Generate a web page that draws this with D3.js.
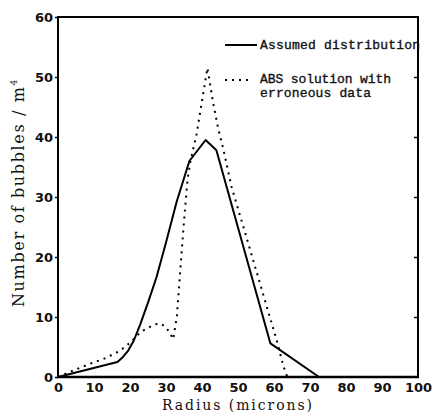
<!DOCTYPE html>
<html>
<head>
<meta charset="utf-8">
<script src="https://cdn.jsdelivr.net/npm/d3@7"></script>
<style>
  html, body { margin: 0; padding: 0; background: #fff; }
  svg { display: block; }
</style>
</head>
<body>
<svg id="chart" width="435" height="416"></svg>
<script>
// ---- data ----
const radiusAssumed = [0, 16.5, 18, 19.5, 21, 22.8, 25, 27.4, 30, 33, 36.5, 41, 44, 59, 72.5];
const countAssumed  = [0, 2.5, 3.3, 4.4, 6, 8.7, 12.4, 16.7, 22.4, 29.3, 36, 39.5, 37.8, 5.6, 0];

const radiusABS = [0, 4.7, 8.9, 13, 17, 19, 21, 23, 25, 27, 28.5, 30, 31.3, 32, 33, 34, 35, 36, 36.8, 38.5, 40, 41.5, 43, 44.5, 46, 48.2, 52, 56, 61, 62.5, 63.7];
const countABS  = [0, 1.2, 2.2, 3.1, 4.3, 5.2, 6.3, 7.5, 8.2, 8.8, 8.9, 8.3, 7.1, 6.3, 10, 18, 26, 33, 36, 40.5, 46, 51.5, 46, 41.4, 37.8, 31.7, 24, 15.8, 5.6, 2, 0];

const xTicks = [0, 10, 20, 30, 40, 50, 60, 70, 80, 90, 100];
const yTicks = [0, 10, 20, 30, 40, 50, 60];

const seriesNames = ["Assumed distribution", "ABS solution with", "erroneous data"];
const xLabel = "Radius (microns)";
const yLabel = "Number of bubbles / m";

// ---- layout ----
const svg = d3.select("#chart");
const L = 58, R = 418, T = 17, B = 377;
const x = d3.scaleLinear().domain([0, 100]).range([L, R]);
const y = d3.scaleLinear().domain([0, 60]).range([B, T]);

const line = d3.line().x(d => x(d[0])).y(d => y(d[1]));

// frame
svg.append("line").attr("x1", L).attr("x2", R + 1).attr("y1", T).attr("y2", T)
  .attr("stroke", "#000").attr("stroke-width", 2);
svg.append("line").attr("x1", R).attr("x2", R).attr("y1", T).attr("y2", B)
  .attr("stroke", "#000").attr("stroke-width", 2);
svg.append("line").attr("x1", L).attr("x2", L).attr("y1", T - 1).attr("y2", B)
  .attr("stroke", "#000").attr("stroke-width", 2);
svg.append("line").attr("x1", L - 1).attr("x2", R + 1).attr("y1", B).attr("y2", B)
  .attr("stroke", "#000").attr("stroke-width", 2.5);

// left axis (ticks + labels)
const yAxisL = d3.axisLeft(y).tickValues(yTicks).tickSize(3).tickPadding(2);
const gL = svg.append("g").attr("transform", `translate(${L},0)`).call(yAxisL);
gL.select(".domain").remove();
gL.selectAll(".tick line").attr("stroke", "#000").attr("stroke-width", 1.5);
gL.selectAll(".tick text")
  .attr("font-family", "DejaVu Sans").attr("font-weight", "bold").attr("font-size", 13)
  .attr("fill", "#111");

// right axis inward ticks
const yAxisR = d3.axisRight(y).tickValues(yTicks.filter(v => v > 0 && v < 60)).tickSize(-4).tickFormat("");
const gR = svg.append("g").attr("transform", `translate(${R},0)`).call(yAxisR);
gR.select(".domain").remove();
gR.selectAll(".tick line").attr("stroke", "#000").attr("stroke-width", 1.5);

// bottom axis labels
const xAxis = d3.axisBottom(x).tickValues(xTicks).tickSize(0).tickPadding(6);
const gB = svg.append("g").attr("transform", `translate(0,${B})`).call(xAxis);
gB.select(".domain").remove();
gB.selectAll(".tick text")
  .attr("font-family", "DejaVu Sans").attr("font-weight", "bold").attr("font-size", 13)
  .attr("fill", "#111");

// series
svg.append("path")
  .datum(d3.zip(radiusAssumed, countAssumed))
  .attr("d", line).attr("fill", "none").attr("stroke", "#000")
  .attr("stroke-width", 2).attr("stroke-linejoin", "round");

svg.append("path")
  .datum(d3.zip(radiusABS, countABS))
  .attr("d", line).attr("fill", "none").attr("stroke", "#000")
  .attr("stroke-width", 2).attr("stroke-dasharray", "2,5");

// legend
svg.append("line").attr("x1", 225).attr("x2", 257).attr("y1", 45).attr("y2", 45)
  .attr("stroke", "#000").attr("stroke-width", 2);
svg.append("line").attr("x1", 225).attr("x2", 252).attr("y1", 80).attr("y2", 80)
  .attr("stroke", "#000").attr("stroke-width", 2).attr("stroke-dasharray", "2,5");

const legFont = g => g.attr("font-family", "Liberation Mono").attr("font-size", 13)
  .attr("fill", "#111").attr("stroke", "#111").attr("stroke-width", 0.35);
svg.append("text").attr("x", 260).attr("y", 49).text(seriesNames[0])
  .attr("textLength", 160).call(legFont);
svg.append("text").attr("x", 260).attr("y", 83).text(seriesNames[1])
  .attr("textLength", 131).call(legFont);
svg.append("text").attr("x", 260).attr("y", 97).text(seriesNames[2])
  .attr("textLength", 111).call(legFont);

// axis titles
svg.append("text").attr("x", 237).attr("y", 410).attr("text-anchor", "middle")
  .attr("font-family", "DejaVu Serif").attr("font-size", 14).attr("fill", "#111")
  .attr("textLength", 150).text(xLabel);

const yt = svg.append("text")
  .attr("transform", "translate(24,307) rotate(-90)")
  .attr("text-anchor", "start")
  .attr("font-family", "DejaVu Serif").attr("font-size", 16).attr("fill", "#111");
yt.append("tspan").attr("textLength", 220).text(yLabel);
yt.append("tspan").attr("dy", -7).attr("font-size", 9).text("4");
</script>
</body>
</html>
